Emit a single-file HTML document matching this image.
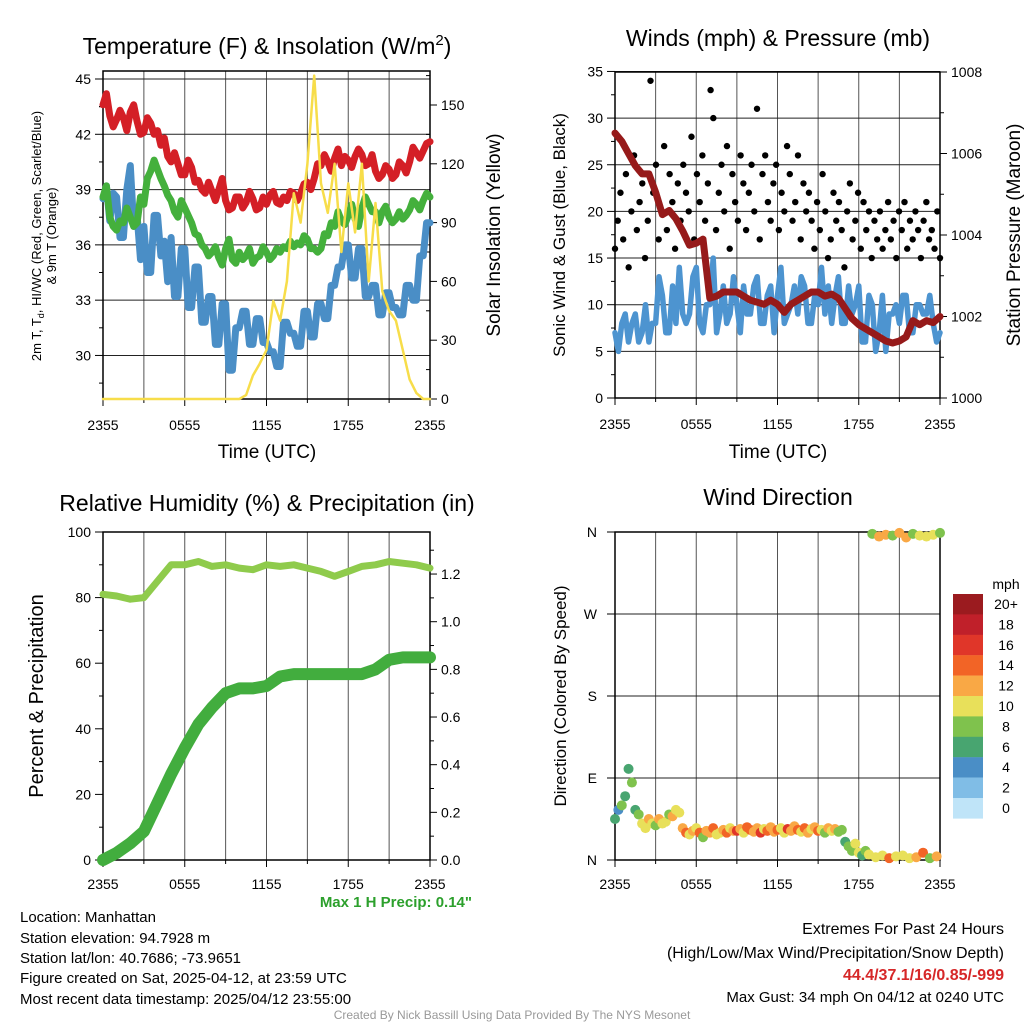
<!DOCTYPE html>
<html><head><meta charset="utf-8"><style>
html,body{margin:0;padding:0;background:#fff}
svg{display:block;font-family:"Liberation Sans",Arial,sans-serif}
</style></head><body>
<svg id="s" width="1024" height="1024" viewBox="0 0 1024 1024" xmlns="http://www.w3.org/2000/svg">
<g id="g1"></g>
<g id="g2"></g>
<g id="g3"></g>
<g id="g4"></g>
<g id="txt">
<text x="267" y="54" font-size="23" text-anchor="middle">Temperature (F) &amp; Insolation (W/m<tspan dy="-9" font-size="15">2</tspan><tspan dy="9">)</tspan></text>
<text x="778" y="46" font-size="23" text-anchor="middle">Winds (mph) &amp; Pressure (mb)</text>
<text x="267" y="511" font-size="23" text-anchor="middle">Relative Humidity (%) &amp; Precipitation (in)</text>
<text x="778" y="505" font-size="23" text-anchor="middle">Wind Direction</text>
<text x="267" y="458" font-size="19" text-anchor="middle">Time (UTC)</text>
<text x="778" y="458" font-size="19" text-anchor="middle">Time (UTC)</text>
<text transform="translate(41,236) rotate(-90)" font-size="13" text-anchor="middle">2m T, T<tspan font-size="9" dy="3">d</tspan><tspan dy="-3">, HI/WC (Red, Green, Scarlet/Blue)</tspan></text>
<text transform="translate(56,236) rotate(-90)" font-size="13" text-anchor="middle">&amp; 9m T (Orange)</text>
<text transform="translate(500,235) rotate(-90)" font-size="19" text-anchor="middle">Solar Insolation (Yellow)</text>
<text transform="translate(565,235) rotate(-90)" font-size="17" text-anchor="middle">Sonic Wind &amp; Gust (Blue, Black)</text>
<text transform="translate(1020,235) rotate(-90)" font-size="19" text-anchor="middle">Station Pressure (Maroon)</text>
<text transform="translate(43,696) rotate(-90)" font-size="20" text-anchor="middle">Percent &amp; Precipitation</text>
<text transform="translate(566,696) rotate(-90)" font-size="17" text-anchor="middle">Direction (Colored By Speed)</text>
<text x="472" y="907" font-size="15" font-weight="bold" fill="#2ca02c" text-anchor="end">Max 1 H Precip: 0.14"</text>
<g font-size="15">
<text x="20" y="922">Location: Manhattan</text>
<text x="20" y="943">Station elevation: 94.7928 m</text>
<text x="20" y="963">Station lat/lon: 40.7686; -73.9651</text>
<text x="20" y="983">Figure created on Sat, 2025-04-12, at 23:59 UTC</text>
<text x="20" y="1004">Most recent data timestamp: 2025/04/12 23:55:00</text>
</g>
<g font-size="16" text-anchor="end">
<text x="1004" y="934">Extremes For Past 24 Hours</text>
<text x="1004" y="958">(High/Low/Max Wind/Precipitation/Snow Depth)</text>
<text x="1004" y="980" font-weight="bold" fill="#d62728">44.4/37.1/16/0.85/-999</text>
<text x="1004" y="1002" font-size="15">Max Gust: 34 mph On 04/12 at 0240 UTC</text>
</g>
<text x="512" y="1019" font-size="12" fill="#999" text-anchor="middle">Created By Nick Bassill Using Data Provided By The NYS Mesonet</text>
</g>
</svg>
<script>
const xTickLabels=["2355","0555","1155","1755","2355"];
const tempTicks=[30,33,36,39,42,45];
const solarTicks=[0,30,60,90,120,150];
const windTicks=[0,5,10,15,20,25,30,35];
const presTicks=[1000,1002,1004,1006,1008];
const rhTicks=[0,20,40,60,80,100];
const precTicks=[0.0,0.2,0.4,0.6,0.8,1.0,1.2];
const dirTicks=["N","E","S","W","N"];
const tempRed=[43.6,44.2,43.0,42.4,42.8,43.3,42.9,42.2,43.2,43.6,42.7,42.0,42.1,42.9,42.6,42.0,42.2,41.4,41.8,40.8,40.5,41.0,40.4,39.8,39.8,40.6,40.2,39.4,39.5,39.0,38.8,39.4,38.9,38.4,39.0,39.6,38.4,37.9,38.0,38.6,38.6,38.0,38.3,38.9,38.5,37.9,38.0,38.6,38.2,38.7,38.9,38.3,38.2,38.6,38.4,38.9,38.8,38.4,38.8,39.3,39.4,39.0,39.6,40.4,40.3,40.9,40.5,40.0,40.7,41.2,40.3,40.8,40.6,40.2,40.8,41.2,40.9,40.3,40.4,40.9,40.0,39.6,39.8,40.3,40.1,39.6,39.8,40.5,40.3,39.9,40.5,41.3,41.0,40.7,41.1,41.5,41.6];
const tempGreen=[38.6,39.2,37.5,37.0,36.8,37.3,37.2,38.0,37.5,37.0,37.2,38.6,38.2,39.6,40.0,40.6,40.1,39.6,39.2,38.7,38.4,37.8,37.5,38.4,38.0,37.6,37.2,36.6,36.5,36.0,35.8,35.4,35.6,35.9,35.3,34.9,35.8,36.3,35.2,35.0,35.6,35.2,35.4,35.8,35.0,35.3,35.4,35.9,35.6,35.2,35.4,35.8,35.6,35.9,35.8,36.2,35.9,36.1,36.0,36.5,36.3,35.8,35.8,35.6,35.8,36.6,36.5,37.2,37.0,37.8,37.3,37.1,37.6,38.2,37.4,37.0,38.0,38.6,38.2,37.8,37.8,37.2,37.8,38.1,37.5,37.2,37.4,37.8,37.4,37.6,37.9,38.4,38.2,37.9,38.4,38.8,38.6];
const tempBlue=[38.5,39.2,37.3,38.8,38.6,36.4,36.4,39.0,40.3,37.0,37.6,35.2,37.0,34.5,34.5,37.6,37.6,35.4,36.2,34.0,36.4,33.2,33.2,35.8,35.8,32.6,32.6,34.8,34.8,31.8,31.8,33.2,33.2,30.6,30.6,32.8,32.8,29.2,29.2,31.5,31.5,32.4,32.4,30.6,30.6,32.0,32.0,30.7,30.7,30.2,30.2,29.4,29.4,31.8,31.8,31.2,31.2,30.5,30.5,32.4,32.4,31.0,31.0,32.8,32.8,32.0,32.0,33.8,33.8,34.8,34.8,36.0,36.0,34.2,34.2,35.8,35.8,33.2,33.2,33.8,33.8,32.2,32.2,33.4,33.4,32.6,32.6,32.2,32.2,33.8,33.8,33.0,33.0,35.4,35.4,37.2,37.2];
const solar=[0,0,0,0,0,0,0,0,0,0,0,0,0,0,0,0,0,0,0,0,0,2,12,18,25,50,40,60,105,90,120,165,110,95,120,75,110,85,120,60,100,55,45,40,25,10,3,0,0];
const windSpd=[7,5,8,9,6,8,9,6,7,10,6,8,8,13,11,7,7,12,8,14,9,8,9,13,14,8,7,10,10,15,7,9,12,8,9,13,10,7,12,9,9,12,13,8,8,11,12,7,11,14,8,9,10,12,9,13,12,8,8,11,10,14,9,12,8,11,13,8,8,12,9,10,12,6,6,11,10,5,7,11,5,9,9,10,8,11,11,7,7,10,10,9,9,11,8,6,7];
const pressure=[1006.5,1006.3,1006.0,1005.7,1005.5,1005.5,1005.05,1004.5,1004.6,1004.4,1004.1,1003.75,1003.8,1003.9,1002.45,1002.5,1002.6,1002.6,1002.6,1002.5,1002.4,1002.35,1002.3,1002.4,1002.3,1002.1,1002.3,1002.4,1002.5,1002.6,1002.6,1002.5,1002.55,1002.45,1002.2,1001.95,1001.8,1001.7,1001.6,1001.5,1001.4,1001.35,1001.4,1001.5,1001.9,1001.8,1001.9,1001.85,1002.0];
const gust=[16,19,22,17,24,14,20,26,18,21,23,15,19,34,22,25,17,20,27,18,24,21,16,23,19,25,22,20,28,17,24,21,26,19,23,33,30,18,22,25,20,27,16,24,21,19,26,23,18,22,25,20,31,17,24,26,21,19,23,25,18,22,20,27,24,19,21,26,17,23,20,22,19,16,21,18,24,20,15,17,22,19,21,18,14,20,23,17,19,22,16,21,18,20,15,19,17,20,16,18,21,17,19,15,20,18,21,16,19,17,20,18,15,19,21,17,18,16,20,15];
const rh=[81,80.5,79.5,80,85,90,90,91,89.5,90,89,88.5,90,89.5,90,89,88,86.5,88,89.5,90,91,90.5,90,89];
const precip=[0,0.03,0.07,0.12,0.24,0.36,0.47,0.57,0.64,0.7,0.72,0.72,0.73,0.77,0.78,0.78,0.78,0.78,0.78,0.78,0.8,0.84,0.85,0.85,0.85];
const dirDeg=[45,55,60,70,100,85,55,50,40,35,45,40,38,45,40,42,50,48,55,52,35,30,28,32,35,30,25,32,30,35,28,30,33,30,35,32,32,34,30,36,33,31,35,30,34,32,36,31,33,35,30,34,32,37,33,31,35,30,34,36,32,33,30,35,32,34,31,33,20,15,10,18,8,5,10,6,358,3,355,5,357,2,356,4,359,5,354,2,358,3,356,8,355,2,357,4,359];
const dirSpd=[6,4,8,6,6,8,5,7,9,10,12,9,8,11,9,10,8,12,9,10,12,14,9,11,10,13,8,12,11,14,10,9,12,13,10,11,15,12,10,14,13,11,12,16,10,13,11,12,14,9,10,15,12,11,13,10,14,12,9,11,13,10,8,12,9,11,7,8,6,7,8,9,10,6,8,9,8,10,12,9,11,13,8,10,12,9,11,10,8,12,9,13,10,7,9,11,8];
const cbLabels=["20+","18","16","14","12","10","8","6","4","2","0"];
const cbColors=["#9b1b1f","#c0202a","#e03629","#f26426","#f9a845","#e8e05a","#7fc24d","#48a570","#4a8ec6","#80bde6","#bfe4f8"];

const NS="http://www.w3.org/2000/svg";
function mk(p,tag,at){const e=document.createElementNS(NS,tag);for(const k in at)e.setAttribute(k,at[k]);p.appendChild(e);return e;}
function txt(p,x,y,s,size,anchor){const t=mk(p,"text",{x:x,y:y,"font-size":size,"text-anchor":anchor||"middle"});t.textContent=s;return t;}
function line(p,x1,y1,x2,y2,c,w){return mk(p,"line",{x1:x1,y1:y1,x2:x2,y2:y2,stroke:c||"#000","stroke-width":w||1});}
function poly(p,xs,ys,c,w){let d="";for(let i=0;i<xs.length;i++)d+=(i?"L":"M")+xs[i].toFixed(1)+" "+ys[i].toFixed(1);return mk(p,"path",{d:d,fill:"none",stroke:c,"stroke-width":w,"stroke-linejoin":"round","stroke-linecap":"round"});}

function frame(g,L,R,T,B,xf,grid){
  for(let h=3;h<24;h+=3){line(g,xf(h),T,xf(h),B,"#555",1);}
  grid.forEach(y=>line(g,L,y,R,y,"#222",1));
  mk(g,"rect",{x:L,y:T,width:R-L,height:B-T,fill:"none",stroke:"#000","stroke-width":1.5});
  for(let h=0;h<=24;h+=3)line(g,xf(h),B,xf(h),B+(h%6?4:7));
  xTickLabels.forEach((s,i)=>{const t=txt(g,xf(i*6),B+31-((B>800)?2:0),s,14);
    
    });
}

(function(){
  const g=document.getElementById("g1");
  const L=103,R=430,T=71,B=399;
  const x=h=>L+h*(R-L)/24, yT=t=>79+(45-t)*18.43, yS=w=>B-w*1.96;
  frame(g,L,R,T,B,x,tempTicks.map(yT));
  tempTicks.forEach(t=>{line(g,L-8,yT(t),L,yT(t));line(g,L-4,yT(t-1.5),L,yT(t-1.5));
    const e=txt(g,L-12,yT(t)+5,String(t),14,"end");
    
    });
  line(g,L-4,yT(43.5),L,yT(43.5));
  solarTicks.forEach(w=>{line(g,R,yS(w),R+7,yS(w));line(g,R-4,yS(w+15),R,yS(w+15));
    const e=txt(g,R+11,yS(w)+5,String(w),14,"start");
    
    });
  const step=24/(tempRed.length-1);
  const pb=poly(g,tempBlue.map((_,i)=>x(i*24/(tempBlue.length-1))),tempBlue.map(yT),"#4a8ec6",7);
  
  
  const pg=poly(g,tempGreen.map((_,i)=>x(i*24/(tempGreen.length-1))),tempGreen.map(yT),"#44b03c",7);
  
  
  const pr=poly(g,tempRed.map((_,i)=>x(i*step)),tempRed.map(yT),"#d41f26",7);
  
  
  const py=poly(g,solar.map((_,i)=>x(i*0.5)),solar.map(yS),"#f7dd4a",2.5);
  
  
})();

(function(){
  const g=document.getElementById("g2");
  const L=615,R=940,T=72,B=398;
  const x=h=>L+h*(R-L)/24, yW=m=>B-m*9.33, yP=p=>B-(p-1000)*40.75;
  frame(g,L,R,T,B,x,windTicks.map(yW));
  windTicks.forEach(m=>{line(g,L-8,yW(m),L,yW(m));if(m<35)line(g,L-4,yW(m+2.5),L,yW(m+2.5));
    const e=txt(g,L-12,yW(m)+5,String(m),14,"end");
    
    });
  presTicks.forEach(p=>{line(g,R,yP(p),R+7,yP(p));if(p<1008)line(g,R,yP(p+1),R+4,yP(p+1));
    const e=txt(g,R+11,yP(p)+5,String(p),14,"start");
    
    });
  const pw=poly(g,windSpd.map((_,i)=>x(i*24/(windSpd.length-1))),windSpd.map(yW),"#4d94d0",5.5);
  
  
  gust.forEach((v,i)=>{const c=mk(g,"circle",{cx:x(i*24/(gust.length-1)),cy:yW(v),r:3.2,fill:"#000"});
    
    });
  const pp=poly(g,pressure.map((_,i)=>x(i*0.5)),pressure.map(yP),"#961a1a",7);
  
  
})();

(function(){
  const g=document.getElementById("g3");
  const L=103,R=430,T=532,B=860;
  const x=h=>L+h*(R-L)/24, yR=r=>B-r*3.28, yPr=p=>B-p*238.3;
  frame(g,L,R,T,B,x,[]);
  rhTicks.forEach(r=>{line(g,L-8,yR(r),L,yR(r));if(r<100)line(g,L-4,yR(r+10),L,yR(r+10));
    const e=txt(g,L-12,yR(r)+5,String(r),14,"end");
    
    });
  precTicks.forEach(p=>{line(g,R,yPr(p),R+7,yPr(p));line(g,R,yPr(p+0.1),R+4,yPr(p+0.1));
    const e=txt(g,R+11,yPr(p)+5,p.toFixed(1),14,"start");
    
    });
  const hx=rh.map((_,i)=>x(i));
  const a=poly(g,hx,rh.map(yR),"#8fcb4c",7);
  
  
  const b=poly(g,hx,precip.map(yPr),"#42ad3e",12);
  
  
})();

(function(){
  const g=document.getElementById("g4");
  const L=615,R=940,T=532,B=860;
  const x=h=>L+h*(R-L)/24, yD=d=>B-d*(B-T)/360;
  frame(g,L,R,T,B,x,[0,90,180,270,360].map(yD));
  dirTicks.forEach((s,i)=>{line(g,L-8,yD(i*90),L,yD(i*90));
    const e=txt(g,L-18,yD(i*90)+5,s,14,"end");
    
    });
  dirDeg.forEach((d,i)=>{const idx=Math.max(0,10-Math.min(10,Math.round(dirSpd[i]/2)));
    const c=mk(g,"circle",{cx:x(i*0.25),cy:yD(d),r:5,fill:cbColors[idx]});
    
    });
  const cb=mk(g,"g",{});
  
  
  txt(cb,1006,589,"mph",14);
  cbColors.forEach((c,i)=>{mk(cb,"rect",{x:953,y:594+i*20.4,width:30,height:20.6,fill:c});
    const e=txt(cb,1006,609+i*20.4,cbLabels[i],14);
    
    });
})();
</script>
</body></html>
